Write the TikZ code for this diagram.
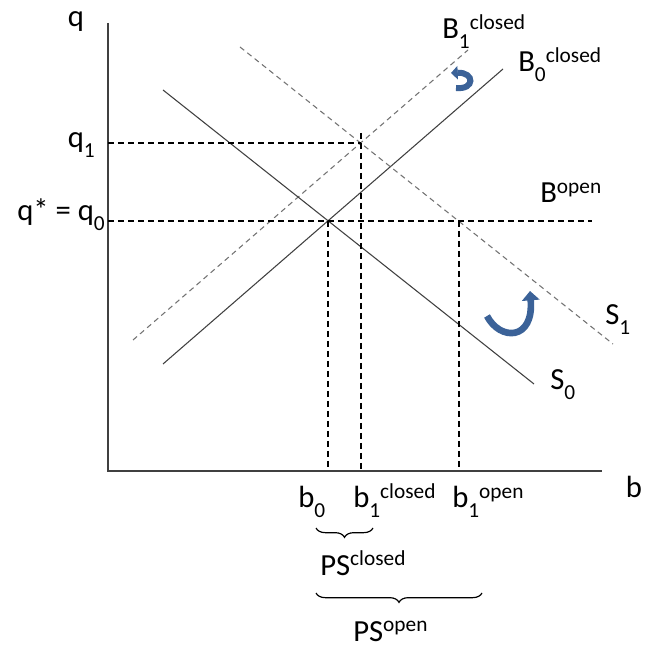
\documentclass[tikz,border=0pt]{standalone}
\usepackage{fontspec}
\setmainfont{Carlito}
\usetikzlibrary{arrows.meta,decorations.pathreplacing}
\definecolor{shiftblue}{HTML}{3B6298}
\newcommand\lowtx[1]{\raisebox{-0.3em}{\fontsize{16}{18}\selectfont #1}}
\newcommand\hightx[1]{\raisebox{0.3em}{\fontsize{16}{18}\selectfont #1}}

\begin{document}
\begin{tikzpicture}[x=0.75pt, y=0.75pt, >=Stealth,
    lbl/.style={inner sep=0pt, anchor=base west, font=\fontsize{23}{27}\selectfont},
    axis/.style={line width=1.1pt, black!75},
    guide/.style={dash pattern=on 4.5pt off 3pt, line width=0.9pt},
    shifted/.style={black!55, dash pattern=on 4pt off 3pt, line width=0.8pt},
    curve/.style={line width=0.8pt, black!75},
    shiftarrow/.style={shiftblue, line width=5pt, -{Triangle[width=13pt,length=7pt]}},
    psbrace/.style={decorate, decoration={brace, mirror, amplitude=7pt}, line width=0.9pt}]
    \useasboundingbox (-108,-178) rectangle (537,471);

    % equilibrium points
    \coordinate (O) at (0,0);
    \coordinate (E0) at (220,250);
    \coordinate (E1) at (253,328);
    \coordinate (E2) at (351,250);

    % axes
    \draw[axis] (0,448) -- (O) -- (494,0);
    \node[lbl, anchor=base] (qax) at (-32,444) {q};
    \node[lbl, anchor=base] (bax) at (526,-27) {b};

    % demand and supply
    \draw[curve] (55,107) -- (395,402);
    \draw[shifted] (25,131) -- (360,421);
    \draw[curve] (55,381) -- (426,87);
    \draw[shifted] (132,424) -- (505,127);
    \node[lbl] (B1lab) at (334,432) {B\lowtx{1}\hightx{closed}};
    \node[lbl] (B0lab) at (410,399) {B\lowtx{0}\hightx{closed}};
    \node[lbl] (Bolab) at (432,268) {B\hightx{open}};
    \node[lbl] (S1lab) at (497,146) {S\lowtx{1}};
    \node[lbl] (S0lab) at (442,81) {S\lowtx{0}};

    % guide lines
    \draw[guide] (0,250) -- (484,250);
    \draw[guide] (0,328) -- (E1);
    \draw[guide] (E0) -- (220,0);
    \draw[guide] (253,338) -- (253,0);
    \draw[guide] (E2) -- (351,0);
    \node[lbl, anchor=base east] (q1lab) at (-13,323) {q\lowtx{1}};
    \node[lbl, anchor=base east] (q0lab) at (-3,250) {q* = q\lowtx{0}};
    \node[lbl] (b0lab) at (190,-37) {b\lowtx{0}};
    \node[lbl] (b1clab) at (245,-37) {b\lowtx{1}\hightx{closed}};
    \node[lbl] (b1olab) at (344,-37) {b\lowtx{1}\hightx{open}};

    % shifts
    \draw[shiftarrow] (379,155) .. controls (392,130) and (426,130) .. (422,180);
    \draw[shiftarrow, line width=4.5pt, -{Triangle[width=10pt,length=5pt]}] (348,383) .. controls (367,381) and (367,399) .. (343,398);

    % producer surplus
    \draw[psbrace] (208,-57) -- (265,-57);
    \node[lbl] (PSc) at (212,-104) {PS\hightx{closed}};
    \draw[psbrace] (208,-122) -- (374,-122);
    \node[lbl] (PSo) at (245,-170) {PS\hightx{open}};
\end{tikzpicture}
\end{document}
